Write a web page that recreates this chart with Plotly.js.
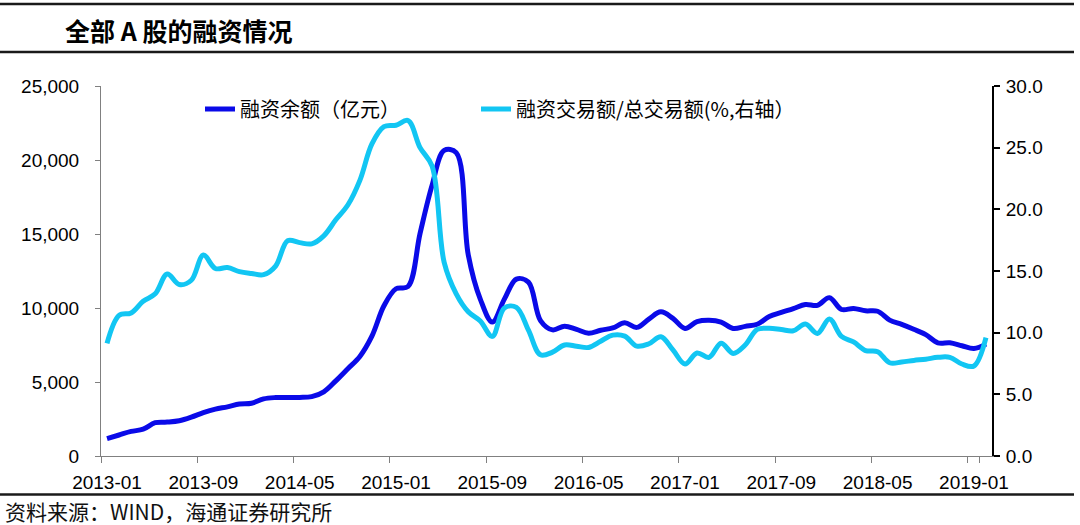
<!DOCTYPE html>
<html>
<head>
<meta charset="utf-8">
<script src="https://cdn.plot.ly/plotly-3.0.1.min.js"></script>
<style>
html,body{margin:0;padding:0;background:#fff;}
#chart{width:1080px;height:525px;}
</style>
</head>
<body>
<div id="chart"></div>
<script>
// ---- data (monthly) ----
const months = [
 "2013-01","2013-02","2013-03","2013-04","2013-05","2013-06","2013-07","2013-08","2013-09","2013-10","2013-11","2013-12",
 "2014-01","2014-02","2014-03","2014-04","2014-05","2014-06","2014-07","2014-08","2014-09","2014-10","2014-11","2014-12",
 "2015-01","2015-02","2015-03","2015-04","2015-05","2015-06","2015-07","2015-08","2015-09","2015-10","2015-11","2015-12",
 "2016-01","2016-02","2016-03","2016-04","2016-05","2016-06","2016-07","2016-08","2016-09","2016-10","2016-11","2016-12",
 "2017-01","2017-02","2017-03","2017-04","2017-05","2017-06","2017-07","2017-08","2017-09","2017-10","2017-11","2017-12",
 "2018-01","2018-02","2018-03","2018-04","2018-05","2018-06","2018-07","2018-08","2018-09","2018-10","2018-11","2018-12",
 "2019-01","2019-02"
];
// 融资余额（亿元）
const marginBalance = [
 1180,1420,1660,1810,2250,2290,2380,2620,2930,3170,
 3320,3510,3560,3860,3950,3960,3960,4010,4340,5080,
 5900,6730,8100,10150,11300,11450,15040,18300,20650,20500,
 13600,10600,9050,10600,11950,11750,9150,8520,8770,8550,
 8300,8500,8650,9000,8690,9250,9740,9300,8620,9080,
 9170,9050,8620,8760,8900,9430,9700,9960,10240,10180,
 10700,9900,9970,9810,9780,9180,8890,8560,8200,7650,
 7650,7450,7260,7560
];
// 融资交易额/总交易额(%)
const marginShare = [
 9.13,11.4,11.6,12.55,13.15,14.75,13.9,14.25,16.29,15.2,
 15.28,14.95,14.8,14.7,15.4,17.45,17.3,17.2,17.85,19.15,
 20.35,22.35,25.3,26.7,26.82,27.2,25.0,23.5,15.7,13.15,
 11.7,10.95,9.7,12.0,12.05,10.2,8.2,8.42,9.0,8.9,
 8.8,9.3,9.8,9.72,8.91,9.1,9.67,8.6,7.46,8.35,
 8.0,9.15,8.32,9.0,10.27,10.35,10.25,10.15,10.7,9.94,
 11.1,9.7,9.25,8.55,8.45,7.56,7.62,7.75,7.85,8.0,
 8.0,7.46,7.3,9.6
];
const xTickLabels = ["2013-01","2013-09","2014-05","2015-01","2015-09","2016-05","2017-01","2017-09","2018-05","2019-01"];
const seriesNames = ["融资余额（亿元）","融资交易额/总交易额(%,右轴）"];
const chartTitle = "全部 A 股的融资情况";
const sourceNote = "资料来源：WIND，海通证券研究所";

// ---- layout helpers (pixel -> paper) ----
const W = 1080, H = 525;
const M = {l: 101, r: 88, t: 86, b: 69};
const PW = W - M.l - M.r, PH = H - M.t - M.b;
const px = x => (x - M.l) / PW;
const py = y => (H - M.b - y) / PH;

const tickFont = {family: "Liberation Sans, Arial, sans-serif", size: 19, color: "#000"};
const cjk = "Noto Sans CJK SC, sans-serif";
const legendFont = {family: cjk, size: 20, color: "#000"};

const traces = [
  {
    x: months, y: marginBalance, name: seriesNames[0],
    type: "scatter", mode: "lines",
    line: {color: "#0A0AE8", width: 5, shape: "spline", smoothing: 1},
    yaxis: "y", legend: "legend"
  },
  {
    x: months, y: marginShare, name: seriesNames[1],
    type: "scatter", mode: "lines",
    line: {color: "#12C6F3", width: 5, shape: "spline", smoothing: 1},
    yaxis: "y2", legend: "legend2"
  }
];

const layout = {
  width: W, height: H,
  margin: M,
  paper_bgcolor: "#fff", plot_bgcolor: "#fff",
  showlegend: true,
  legend: {
    orientation: "h",
    x: px(200), xanchor: "left",
    y: py(109), yanchor: "middle",
    font: legendFont,
    bgcolor: "rgba(0,0,0,0)"
  },
  legend2: {
    orientation: "h",
    x: px(476), xanchor: "left",
    y: py(109), yanchor: "middle",
    font: legendFont,
    bgcolor: "rgba(0,0,0,0)"
  },
  xaxis: {
    type: "category",
    range: [-0.5, months.length - 0.5],
    tickmode: "array",
    tickvals: xTickLabels,
    ticktext: xTickLabels,
    tickson: "boundaries",
    ticks: "outside", ticklen: 6, tickwidth: 1, tickcolor: "#808080",
    showline: true, linecolor: "#808080", linewidth: 1,
    showgrid: false, zeroline: false,
    tickfont: tickFont,
    tickangle: 0,
    ticklabelstandoff: 9
  },
  yaxis: {
    range: [0, 25000], dtick: 5000, tick0: 0,
    tickformat: ",d",
    ticks: "outside", ticklen: 5, tickwidth: 1, tickcolor: "#808080",
    showline: true, linecolor: "#808080", linewidth: 1,
    showgrid: false, zeroline: false,
    tickfont: tickFont,
    ticklabelstandoff: 12
  },
  yaxis2: {
    overlaying: "y", side: "right",
    range: [0, 30], dtick: 5, tick0: 0,
    tickformat: ".1f",
    ticks: "outside", ticklen: 6, tickwidth: 2, tickcolor: "#000",
    showline: true, linecolor: "#000", linewidth: 2,
    showgrid: false, zeroline: false,
    tickfont: tickFont,
    ticklabelstandoff: 2
  },
  shapes: [
    {type: "line", xref: "paper", yref: "paper", x0: px(0), x1: px(1074), y0: py(4), y1: py(4), line: {color: "#1a1a1a", width: 2.5}},
    {type: "line", xref: "paper", yref: "paper", x0: px(0), x1: px(1074), y0: py(52), y1: py(52), line: {color: "#1a1a1a", width: 2.5}},
    {type: "line", xref: "paper", yref: "paper", x0: px(0), x1: px(1074), y0: py(494.5), y1: py(494.5), line: {color: "#1a1a1a", width: 2.5}}
  ],
  annotations: [
    {text: "<b>" + chartTitle + "</b>", xref: "paper", yref: "paper", x: px(63), y: py(30),
     xanchor: "left", yanchor: "middle", showarrow: false,
     font: {family: cjk, size: 25, color: "#000"}},
    {text: sourceNote, xref: "paper", yref: "paper", x: px(4), y: py(510.5),
     xanchor: "left", yanchor: "middle", showarrow: false, borderpad: 0,
     font: {family: cjk, size: 21, color: "#111"}}
  ]
};

Plotly.newPlot("chart", traces, layout, {staticPlot: true, displayModeBar: false});
</script>
</body>
</html>
